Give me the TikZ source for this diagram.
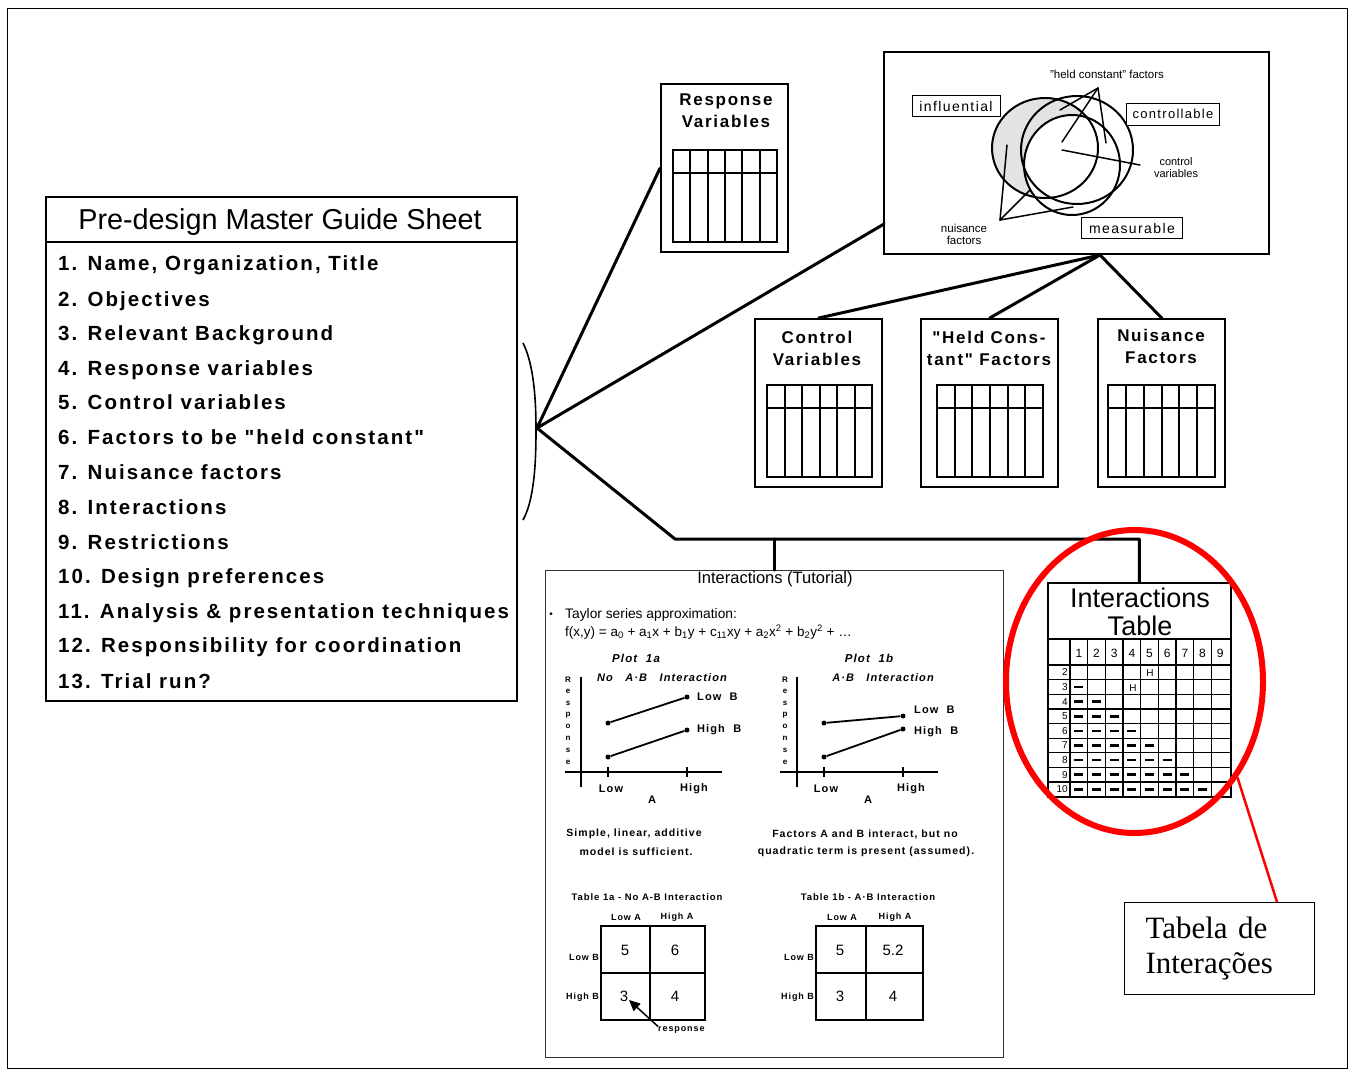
\documentclass[tikz,border=0pt]{standalone}
\usepackage{fontspec}
\setmainfont{Liberation Sans}
\newfontfamily\lsp[LetterSpace=10]{Liberation Sans}
\newfontfamily\serf{Liberation Serif}
\usetikzlibrary{arrows.meta,shapes.geometric}
\newcommand\fs[2]{\fontsize{#1}{#2}\selectfont}
\newcommand\gridtab[4]{%
  \draw[tabline] (#1,#2) rectangle ++(#3,#4);
  \draw[tabline] (#1,#2+23) -- ++(#3,0);
  \foreach \k in {1,...,5}{\draw[tabline] (#1+\k*#3/6,#2) -- ++(0,#4);}
}
\begin{document}
\begin{tikzpicture}[x=1pt,y=-1pt,
  boxline/.style={draw, line width=2.4, inner sep=0, anchor=north west},
  tabline/.style={line width=2},
  conn/.style={line width=3, line cap=round, line join=round},
  thinconn/.style={line width=1.5, line cap=round},
  listtxt/.style={anchor=base west, inner sep=0, font=\lsp\bfseries\fs{20.5}{21}},
  hdr/.style={align=center, inner sep=0, font=\lsp\bfseries\fs{17}{22}},
  small/.style={inner sep=0, font=\lsp\bfseries\fs{10.5}{12}},
  tiny/.style={inner sep=0, font=\lsp\bfseries\fs{9}{10}},
  plotlbl/.style={inner sep=0, font=\lsp\bfseries\fs{11}{12}},
  cellnum/.style={inner sep=0, font=\fs{15}{15}},
  vlabel/.style={draw, line width=1, inner sep=0},
  dot/.style={circle, fill, inner sep=0, minimum size=5},
]
\useasboundingbox (0,0) rectangle (1353,1072);
\draw[line width=1] (7,8) rectangle (1347,1068);

% ---------------- Master guide sheet
\node[boxline, minimum width=471, minimum height=504] (guide) at (45,196) {};
\draw[line width=2.4] (45,242) -- (516,242);
\node[anchor=base, inner sep=0, font=\fs{28.8}{29}] (guidetitle) at (280,229) {Pre-design Master Guide Sheet};
\foreach \yy/\lbl [count=\i] in {263/{1. Name, Organization, Title},
  299/{2. Objectives}, 333/{3. Relevant Background}, 368/{4. Response variables},
  402/{5. Control variables}, 437/{6. Factors to be "held constant"},
  472/{7. Nuisance factors}, 507/{8. Interactions}, 542/{9. Restrictions},
  576/{10. Design preferences}, 611/{11. Analysis \& presentation techniques},
  645/{12. Responsibility for coordination}, 681/{13. Trial run?}}
  {\node[listtxt] (item\i) at (58,\yy+7) {\lbl};}

% brace
\draw[line width=1.6] (523,343) .. controls (534,365) and (536,400) .. (536,430)
  .. controls (536,465) and (534,500) .. (523,520);
\coordinate (hub) at (537,428);

% ---------------- Response variables
\node[boxline, minimum width=127, minimum height=168] (resp) at (660,83) {};
\node[hdr] (resptitle) at (726,111) {Response\\Variables};
\gridtab{673}{150}{104}{92}

% ---------------- Venn box
\node[boxline, line width=2, minimum width=385, minimum height=202] (venn) at (883,51) {};
\fill[gray!22] (1045,148) ellipse [x radius=53, y radius=50];
\fill[white] (1072,165) ellipse [x radius=48, y radius=50];
\draw[line width=2] (1045,148) ellipse [x radius=53, y radius=50];
\draw[line width=2] (1077,150) ellipse [x radius=56, y radius=54];
\draw[line width=2] (1072,165) ellipse [x radius=48, y radius=50];
\node[vlabel, minimum width=88, minimum height=21, fill=white, font=\lsp\fs{14}{14}] (infl) at (956,106) {influential};
\node[vlabel, minimum width=93, minimum height=22, fill=white, font=\lsp\fs{13}{13}] (contr) at (1173,114) {controllable};
\node[vlabel, minimum width=101, minimum height=21, fill=white, font=\lsp\fs{14}{14}] (meas) at (1132,228) {measurable};
\node[inner sep=0, font=\fs{11.5}{11}] (heldlbl) at (1107,74) {"held constant" factors};
\coordinate (heldtip) at (1098,88);
\draw[thinconn] (heldtip) -- (1062,142);
\draw[thinconn] (heldtip) -- (1060,110);
\draw[thinconn] (heldtip) -- (1106,143);
\node[inner sep=0, align=center, font=\fs{11}{12}] (ctrllbl) at (1176,168) {control\\variables};
\coordinate (ctrlstart) at (1062,150);
\draw[thinconn] (ctrlstart) -- (1140,165);
\node[inner sep=0, align=center, font=\fs{11.5}{12}] (nuislbl) at (964,234) {nuisance\\factors};
\coordinate (nuistip) at (1000,220);
\draw[thinconn] (nuistip) -- (1007,145);
\draw[thinconn] (nuistip) -- (1030,190);
\draw[thinconn] (nuistip) -- (1073,207);

% ---------------- Control / Held / Nuisance
\node[boxline, minimum width=127, minimum height=168] (ctrl) at (754,318) {};
\node[hdr] at (817,348) {Control\\Variables};
\gridtab{767}{385}{105}{92}
\node[boxline, minimum width=137, minimum height=168] (held) at (920,318) {};
\node[hdr] at (989,348) {"Held Cons-\\tant" Factors};
\gridtab{937}{385}{106}{92}
\node[boxline, minimum width=127, minimum height=168] (nuis) at (1097,318) {};
\node[hdr] at (1161,346) {Nuisance\\Factors};
\gridtab{1108}{385}{107}{92}

% ---------------- connectors
\coordinate (vennin) at (884,224);
\coordinate (bend) at (675,539);
\coordinate (vhub) at (1100,255);
\draw[conn] (hub) -- (resp.west);
\draw[conn] (hub) -- (vennin);
\draw[conn] (vhub) -- (ctrl.north);
\draw[conn] (vhub) -- (held.north);
\draw[conn] (vhub) -- (nuis.north);

% ---------------- Tutorial box
\node[draw=black!80, line width=1.3, inner sep=0, anchor=north west, minimum width=458, minimum height=487] (tut) at (545,570) {};
\node[inner sep=0, font=\fs{16.5}{16}] (tuttitle) at (775,579) {Interactions (Tutorial)};
\node[inner sep=0, font=\fs{10}{10}] at (551,615) {•};
\node[anchor=west, inner sep=0, font=\fs{13.8}{14}] at (565,615) {Taylor series approximation:};
\node[anchor=west, inner sep=0, font=\fs{13.5}{14}] at (565,632) {f(x,y) = a\textsubscript{0} + a\textsubscript{1}x + b\textsubscript{1}y + c\textsubscript{11}xy + a\textsubscript{2}x\textsuperscript{2} + b\textsubscript{2}y\textsuperscript{2} + \dots};
% plot 1a
\node[plotlbl, font=\lsp\bfseries\itshape\fs{11.5}{12}] at (636,658) {Plot\ \ 1a};
\node[plotlbl, font=\lsp\bfseries\itshape\fs{11}{12}] at (662,678) {No\ \ \ A·B\ \ \ Interaction};
\foreach \L [count=\i from 0] in {R,e,s,p,o,n,s,e}{\node[inner sep=0, font=\bfseries\fs{8}{8}] at (568,680+\i*11.7) {\L};}
\draw[line width=2] (581,677) -- (581,787);
\draw[line width=2] (565,772) -- (722,772);
\draw[line width=1.2] (608,767) -- (608,777) (687,767) -- (687,777);
\node[dot] (a1) at (608,723) {}; \node[dot] (a2) at (687,697) {};
\node[dot] (a3) at (608,757) {}; \node[dot] (a4) at (687,730) {};
\draw[line width=1.8] (a1) -- (a2); \draw[line width=1.8] (a3) -- (a4);
\node[plotlbl, anchor=west] at (697,697) {Low\ \ B};
\node[plotlbl, anchor=west] at (697,730) {High\ \ B};
\node[plotlbl] at (611,789) {Low}; \node[plotlbl] at (694,789) {High}; \node[plotlbl] at (652,800) {A};
% plot 1b
\node[plotlbl, font=\lsp\bfseries\itshape\fs{11.5}{12}] at (869,658) {Plot\ \ 1b};
\node[plotlbl, font=\lsp\bfseries\itshape\fs{11}{12}] at (883,678) {A·B\ \ \ Interaction};
\foreach \L [count=\i from 0] in {R,e,s,p,o,n,s,e}{\node[inner sep=0, font=\bfseries\fs{8}{8}] at (785,680+\i*11.7) {\L};}
\draw[line width=2] (797,677) -- (797,787);
\draw[line width=2] (780,772) -- (938,772);
\draw[line width=1.2] (824,767) -- (824,777) (903,767) -- (903,777);
\node[dot] (b1) at (824,723) {}; \node[dot] (b2) at (903,716) {};
\node[dot] (b3) at (824,757) {}; \node[dot] (b4) at (903,729) {};
\draw[line width=1.8] (b1) -- (b2); \draw[line width=1.8] (b3) -- (b4);
\node[plotlbl, anchor=west] at (914,710) {Low\ \ B};
\node[plotlbl, anchor=west] at (914,732) {High\ \ B};
\node[plotlbl] at (826,789) {Low}; \node[plotlbl] at (911,789) {High}; \node[plotlbl] at (868,800) {A};
% captions
\node[small] at (634,834) {Simple, linear, additive};
\node[small] at (636,852) {model is sufficient.};
\node[small] at (865,834) {Factors A and B interact, but no};
\node[small] at (866,852) {quadratic term is present (assumed).};
% table 1a
\node[tiny, font=\lsp\bfseries\fs{9.5}{10}] at (647,897) {Table 1a - No A-B Interaction};
\node[tiny] at (626,917) {Low A}; \node[tiny] at (677,917) {High A};
\draw[line width=1.5] (601,926) rectangle (705,1020) (650,926) -- (650,1020) (601,973) -- (705,973);
\node[tiny, anchor=east] at (599,957) {Low B}; \node[tiny, anchor=east] at (599,997) {High B};
\node[cellnum] at (625,950) {5}; \node[cellnum] at (675,950) {6};
\node[cellnum] at (624,996) {3}; \node[cellnum] at (675,996) {4};
\node[tiny, anchor=west] (resplbl) at (658,1030) {response};
\coordinate (resptip) at (629,1000);
\draw[line width=1.5, -{Triangle[width=10,length=11]}] (resplbl.north west) -- (resptip);
% table 1b
\node[tiny, font=\lsp\bfseries\fs{9.5}{10}] at (868,897) {Table 1b - A·B Interaction};
\node[tiny] at (842,917) {Low A}; \node[tiny] at (895,917) {High A};
\draw[line width=1.5] (816,926) rectangle (923,1020) (866,926) -- (866,1020) (816,973) -- (923,973);
\node[tiny, anchor=east] at (814,957) {Low B}; \node[tiny, anchor=east] at (814,997) {High B};
\node[cellnum] at (840,950) {5}; \node[cellnum] at (893,950) {5.2};
\node[cellnum] at (840,996) {3}; \node[cellnum] at (893,996) {4};

% ---------------- Interactions table
\node[draw, line width=1.5, inner sep=0, anchor=north west, minimum width=183, minimum height=214] (itab) at (1047,582) {};
\node[inner sep=0, align=center, font=\fs{27}{28}] (itabtitle) at (1140,612) {Interactions\\Table};
\draw[line width=1.5] (1047,639) -- (1230,639);
\foreach \k in {0,...,8}{\draw[line width=1.3] (1070+\k*17.67,639) -- (1070+\k*17.67,796);}
\foreach \j in {0,...,8}{\draw[line width=1.3] (1047,665+\j*14.63) -- (1230,665+\j*14.63);}
\foreach \k in {1,...,9}{\node[inner sep=0, font=\fs{12}{12}] at (1070+\k*17.67-8.83,653) {\k};}
\foreach \r in {2,...,10}{\node[inner sep=0, anchor=east, font=\fs{10}{10}] at (1068,665+\r*14.63-21.95) {\r};}
\foreach \r in {3,...,10}{
  \pgfmathtruncatemacro\m{\r-2}
  \foreach \c in {1,...,\m}{
    \draw[line width=2.6] (1070+\c*17.67-13.3,665+\r*14.63-21.95) -- ++(9,0);
  }
}
\node[inner sep=0, font=\fs{10}{10}] at (1150,673) {H};
\node[inner sep=0, font=\fs{10}{10}] at (1133,688) {H};
\draw[conn] (hub) -- (bend) -- (itab.north |- bend) -- (itab.north);
\draw[conn] (tut.north |- bend) -- (tut.north);

% ---------------- red highlight
\node[draw=red, line width=6, ellipse, inner sep=0, minimum width=257, minimum height=303] (redring) at (1134.5,681.5) {};
\node[draw, line width=1, inner xsep=21, text width=148, minimum height=92, align=left, anchor=north west,
  font=\serf\fs{31}{35}] (tabbox) at (1124,902) {Tabela de\\Interações};
\coordinate (tabcon) at (1277,902);
\draw[red, line width=2.5] (redring.-43) -- (tabcon);
\end{tikzpicture}
\end{document}
